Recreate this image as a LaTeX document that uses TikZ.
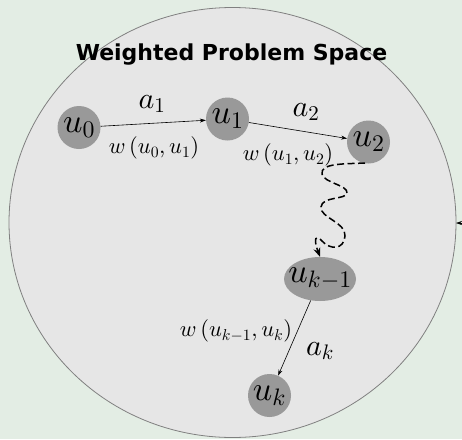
\documentclass[tikz,border=0pt]{standalone}
\usepackage{fontspec}
\DeclareFontShape{OML}{cmm}{m}{it}{<->cmmi10}{}
\DeclareFontShape{OT1}{cmr}{m}{n}{<->cmr10}{}
\DeclareFontShape{OMS}{cmsy}{m}{n}{<->cmsy10}{}
\DeclareFontShape{OMX}{cmex}{m}{n}{<->cmex10}{}
\newfontfamily\titlefont{DejaVu Sans}
\usetikzlibrary{shapes.geometric,arrows.meta}
\definecolor{bgc}{RGB}{227,237,228}
\definecolor{spacec}{RGB}{230,230,230}
\definecolor{nodec}{RGB}{153,153,153}
\definecolor{rimc}{RGB}{128,128,128}
\tikzset{
  state/.style={circle,fill=nodec,minimum size=43pt,inner sep=0pt,font=\fontsize{34}{38}\selectfont},
  statee/.style={ellipse,fill=nodec,minimum width=72pt,minimum height=44pt,inner sep=0pt,font=\fontsize{34}{38}\selectfont},
  edge/.style={-{Stealth[length=6pt,width=4pt]},line width=0.6pt},
  alab/.style={font=\fontsize{30}{34}\selectfont,inner sep=0pt},
  wlab/.style={font=\fontsize{22.5}{26}\selectfont,inner sep=0pt},
  snake/.style={-{Stealth[length=9pt,width=7pt]},line width=1.5pt,dash pattern=on 7pt off 3.5pt}
}
\begin{document}
\begin{tikzpicture}[x=1pt,y=-1pt]
\useasboundingbox (0,0) rectangle (462,439);
\fill[bgc] (0,0) rectangle (462,439);
\draw[rimc,fill=spacec,line width=0.8pt] (232.5,222.5) ellipse [x radius=223.5,y radius=215];
\node[font=\titlefont\bfseries\fontsize{22}{26}\selectfont] (title) at (231.5,55) {Weighted Problem Space};
\node[state] (u0) at (79,127.5) {$u_0$};
\node[state] (u1) at (227.5,119) {$u_1$};
\node[state] (u2) at (368.5,142) {$u_2$};
\node[statee] (uk1) at (320,279) {\makebox[0pt][c]{$u_{k-1}$}};
\node[state] (uk) at (269.5,395.5) {$u_k$};
\draw[edge] (u0) -- (u1);
\draw[edge] (u1) -- (u2);
\draw[edge] (uk1) -- (uk);
\node[alab] (a1) at (152,104) {$a_1$};
\node[alab] (a2) at (306,112) {$a_2$};
\node[alab] (ak) at (320,351) {$a_k$};
\node[wlab] (w01) at (154,148) {$w\left(u_0,u_1\right)$};
\node[wlab] (w12) at (288,155) {$w\left(u_1,u_2\right)$};
\node[wlab] (wk) at (236,331) {$w\left(u_{k-1},u_k\right)$};
\coordinate (s0) at (365,163);
\draw[snake] (s0) .. controls (345,164) and (320,163) .. (322,174)
  .. controls (324,183) and (348,185) .. (347,193)
  .. controls (346,200) and (322,196) .. (321,207)
  .. controls (320,218) and (346,222) .. (345,236)
  .. controls (344,250) and (330,250) .. (322,241)
  .. controls (316,234) and (313,238) .. (uk1.north);
\coordinate (ext) at (470,223);
\coordinate (rim) at (456,223);
\draw[-{Stealth[length=6pt,width=4pt]},line width=0.6pt] (ext) -- (rim);
\end{tikzpicture}
\end{document}
